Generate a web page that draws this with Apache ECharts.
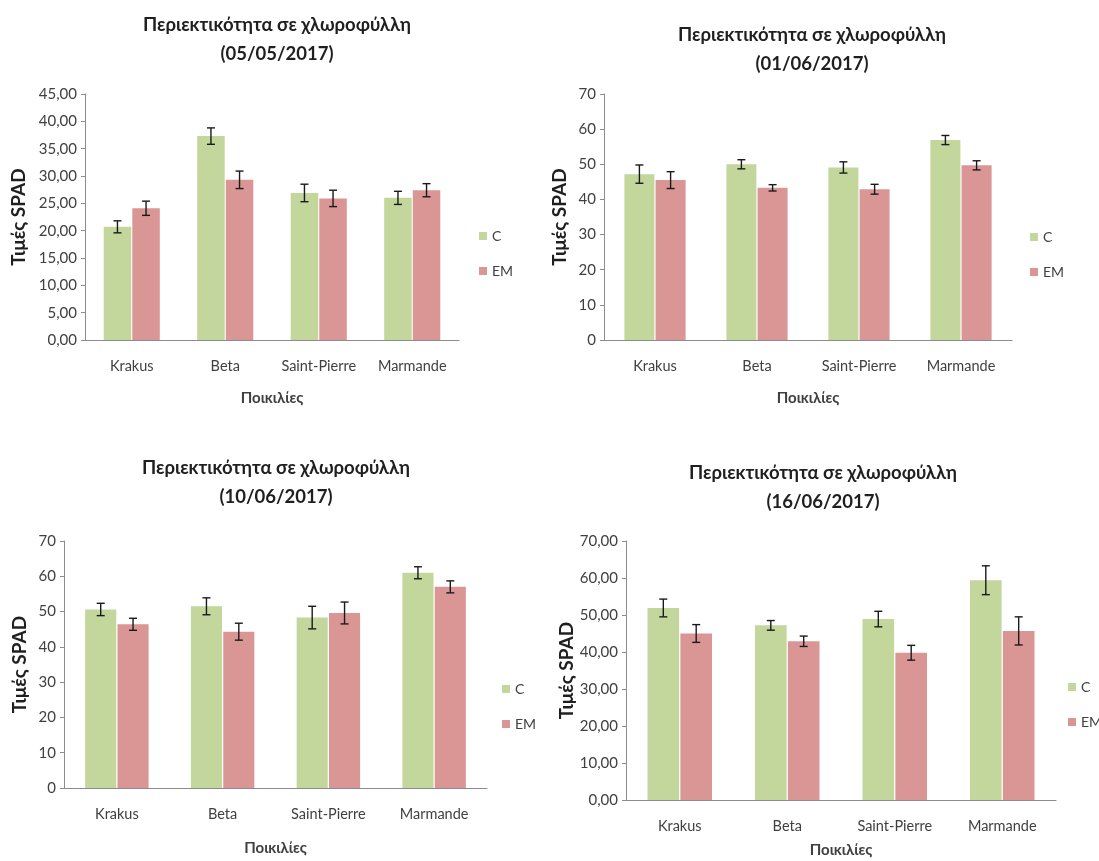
<!DOCTYPE html>
<html>
<head>
<meta charset="utf-8">
<script src="https://cdn.jsdelivr.net/npm/echarts@6/dist/echarts.min.js"></script>
<style>
  html, body { margin: 0; padding: 0; background: #fff; }
  #chart { width: 1099px; height: 861px; }
</style>
</head>
<body>
<div id="chart"></div>
<script>
const varieties = ['Krakus', 'Beta', 'Saint-Pierre', 'Marmande']
const seriesNames = ['C', 'EM']

// mean SPAD values and error bars, one set per sampling date
const dates = ['05/05/2017', '01/06/2017', '10/06/2017', '16/06/2017']
const cMeans = [
  [20.7, 37.3, 26.9, 26.0],
  [47.2, 50.0, 49.1, 56.9],
  [50.6, 51.5, 48.3, 61.0],
  [51.9, 47.2, 48.9, 59.4]
]
const cErrors = [
  [1.1, 1.5, 1.6, 1.2],
  [2.6, 1.3, 1.6, 1.3],
  [1.75, 2.4, 3.2, 1.7],
  [2.4, 1.3, 2.1, 3.9]
]
const emMeans = [
  [24.1, 29.3, 25.9, 27.4],
  [45.5, 43.3, 42.9, 49.7],
  [46.4, 44.3, 49.6, 57.0],
  [45.0, 42.9, 39.8, 45.7]
]
const emErrors = [
  [1.3, 1.6, 1.5, 1.2],
  [2.4, 0.9, 1.4, 1.3],
  [1.7, 2.4, 3.1, 1.7],
  [2.4, 1.4, 2.0, 3.8]
]
const yMax = [45, 70, 70, 70]
const yStep = [5, 10, 10, 10]
const yDecimals = [2, 0, 0, 2]

const green = '#c3d69b'
const red = '#d99694'
const textColor = '#404040'
const axisColor = '#8c8c8c'
const font = 'Lato, "Open Sans", sans-serif'

// panel layout, in pixels
const panels = [
  { left: 85, right: 640, top: 94, bottom: 521, titleX: 272, titleY: 6, legendX: 474, legendY: 224, nameGap: 57, xNameGap: 51 },
  { left: 604, right: 87, top: 94, bottom: 521, titleX: 807, titleY: 16, legendX: 1025, legendY: 225, nameGap: 35, xNameGap: 51 },
  { left: 64, right: 612, top: 541, bottom: 73, titleX: 271, titleY: 449, legendX: 497, legendY: 677, nameGap: 35, xNameGap: 53 },
  { left: 626, right: 43, top: 541, bottom: 61, titleX: 818, titleY: 454, legendX: 1063, legendY: 675, nameGap: 48, xNameGap: 43 }
]

const barCategoryGap = 0.4
const barGap = 0.04

function errorBarRenderer(side) {
  return function (params, api) {
    const band = api.size([1, 0])[0]
    const barWidth = band * (1 - barCategoryGap) / (2 + barGap)
    const offset = side * barWidth * (0.5 + barGap / 2)
    const low = api.coord([api.value(0), api.value(1)])
    const high = api.coord([api.value(0), api.value(2)])
    const x = low[0] + offset
    const cap = 4
    const style = { stroke: '#1a1a1a', lineWidth: 1.4 }
    return {
      type: 'group',
      children: [
        { type: 'line', shape: { x1: x, y1: low[1], x2: x, y2: high[1] }, style },
        { type: 'line', shape: { x1: x - cap, y1: low[1], x2: x + cap, y2: low[1] }, style },
        { type: 'line', shape: { x1: x - cap, y1: high[1], x2: x + cap, y2: high[1] }, style }
      ]
    }
  }
}

function errorData(means, errors) {
  return means.map((m, i) => [i, m - errors[i], m + errors[i]])
}

const title = []
const grid = []
const xAxis = []
const yAxis = []
const legend = []
const series = []

panels.forEach((p, k) => {
  title.push({
    text: 'Περιεκτικότητα σε χλωροφύλλη\n(' + dates[k] + ')',
    left: p.titleX,
    top: p.titleY,
    textAlign: 'center',
    textStyle: { fontFamily: font, fontSize: 18.5, fontWeight: 'bold', color: '#1f1f1f', lineHeight: 29 }
  })
  grid.push({ left: p.left, right: p.right, top: p.top, bottom: p.bottom })
  xAxis.push({
    type: 'category',
    gridIndex: k,
    data: varieties,
    name: 'Ποικιλίες',
    nameLocation: 'middle',
    nameGap: p.xNameGap,
    nameTextStyle: { fontFamily: font, fontSize: 15, fontWeight: 'bold', color: textColor },
    axisLine: { lineStyle: { color: axisColor, width: 1.2 } },
    axisTick: { show: false },
    axisLabel: { interval: 0, fontFamily: font, fontSize: 14.5, color: textColor, margin: 19 }
  })
  yAxis.push({
    type: 'value',
    gridIndex: k,
    min: 0,
    max: yMax[k],
    interval: yStep[k],
    name: 'Τιμές SPAD',
    nameLocation: 'middle',
    nameRotate: 90,
    nameGap: p.nameGap,
    nameTextStyle: { fontFamily: font, fontSize: 19, fontWeight: 'bold', color: '#1f1f1f' },
    splitLine: { show: false },
    axisLine: { show: true, lineStyle: { color: axisColor, width: 1 } },
    axisTick: { show: true, inside: false, length: 4, lineStyle: { color: axisColor } },
    axisLabel: {
      fontFamily: font,
      fontSize: 15,
      color: textColor,
      margin: 8,
      formatter: (v) => v.toFixed(yDecimals[k]).replace('.', ',')
    }
  })
  legend.push({
    orient: 'vertical',
    left: p.legendX,
    top: p.legendY,
    itemGap: 21,
    itemWidth: 8,
    itemHeight: 8,
    icon: 'rect',
    data: seriesNames,
    selectedMode: false,
    textStyle: { fontFamily: font, fontSize: 14, color: textColor }
  })
  series.push(
    {
      name: 'C',
      type: 'bar',
      xAxisIndex: k,
      yAxisIndex: k,
      data: cMeans[k],
      barCategoryGap: '40%',
      barGap: '4%',
      itemStyle: { color: green }
    },
    {
      name: 'EM',
      type: 'bar',
      xAxisIndex: k,
      yAxisIndex: k,
      data: emMeans[k],
      barCategoryGap: '40%',
      barGap: '4%',
      itemStyle: { color: red }
    },
    {
      type: 'custom',
      xAxisIndex: k,
      yAxisIndex: k,
      renderItem: errorBarRenderer(-1),
      data: errorData(cMeans[k], cErrors[k]),
      encode: { x: 0, y: [1, 2] },
      z: 5,
      silent: true
    },
    {
      type: 'custom',
      xAxisIndex: k,
      yAxisIndex: k,
      renderItem: errorBarRenderer(1),
      data: errorData(emMeans[k], emErrors[k]),
      encode: { x: 0, y: [1, 2] },
      z: 5,
      silent: true
    }
  )
})

const chart = echarts.init(document.getElementById('chart'))
chart.setOption({
  animation: false,
  backgroundColor: '#ffffff',
  title,
  grid,
  xAxis,
  yAxis,
  legend,
  series
})
</script>
</body>
</html>
